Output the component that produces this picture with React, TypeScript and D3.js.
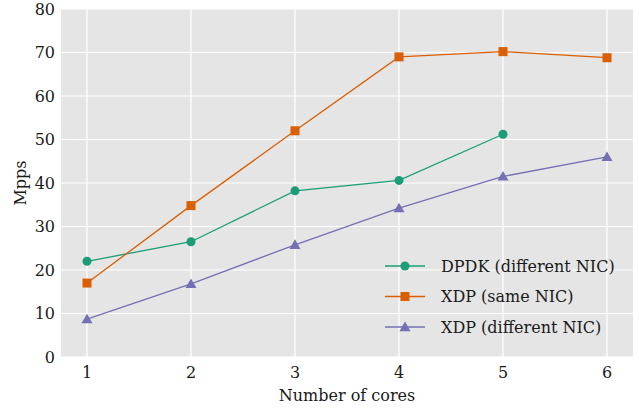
import React from "react";
import * as d3 from "d3";

const cores = [1, 2, 3, 4, 5, 6];
const dpdkDiff = [22.0, 26.5, 38.2, 40.6, 51.2];
const xdpSame = [17.0, 34.8, 52.0, 69.0, 70.2, 68.8];
const xdpDiff = [8.7, 16.8, 25.8, 34.2, 41.5, 46.0];
const yTicks = [0, 10, 20, 30, 40, 50, 60, 70, 80];
const seriesNames = ["DPDK (different NIC)", "XDP (same NIC)", "XDP (different NIC)"];
const colors = ["#1b9e77", "#d95f02", "#7570b3"];

const W = 639, H = 410;
const L = 61, R = 633, T = 9, B = 357;
const FONT = "DejaVu Serif";

export default function App() {
  const x = d3.scaleLinear().domain([0.75, 6.25]).range([L, R]);
  const y = d3.scaleLinear().domain([0, 80]).range([B, T]);
  const line = d3.line<[number, number]>().x(d => x(d[0])).y(d => y(d[1]));
  const series = [dpdkDiff, xdpSame, xdpDiff].map(vals => vals.map((v, i) => [cores[i], v] as [number, number]));
  const shapes = ["circle", "square", "triangle"];

  const marker = (shape: string, cx: number, cy: number, color: string, key: string) => {
    if (shape === "circle") return <circle key={key} cx={cx} cy={cy} r={4.5} fill={color} />;
    if (shape === "square") return <rect key={key} x={cx - 4.5} y={cy - 4.5} width={9} height={9} fill={color} />;
    const s = 5.5;
    return <path key={key} d={`M${cx},${cy - s}L${cx + s},${cy + s * 0.75}L${cx - s},${cy + s * 0.75}Z`} fill={color} />;
  };

  return (
    <svg width={W} height={H} style={{ position: "absolute", left: 0, top: 0 }} fontFamily={FONT}>
      <rect x={L} y={T} width={R - L} height={B - T} fill="#e5e5e5" />
      {yTicks.map(t => (
        <line key={"gy" + t} x1={L} x2={R} y1={y(t)} y2={y(t)} stroke="#fff" strokeWidth={1.2} />
      ))}
      {cores.map(c => (
        <line key={"gx" + c} x1={x(c)} x2={x(c)} y1={T} y2={B} stroke="#fff" strokeWidth={1.2} />
      ))}
      {yTicks.map(t => (
        <text key={"ty" + t} x={L - 6} y={y(t)} dy="0.35em" textAnchor="end" fontSize={16} fill="#1a1a1a">{t}</text>
      ))}
      {cores.map(c => (
        <text key={"tx" + c} x={x(c)} y={B + 21} textAnchor="middle" fontSize={16} fill="#1a1a1a">{c}</text>
      ))}
      {series.map((pts, si) => (
        <g key={"s" + si}>
          <path d={line(pts) || ""} fill="none" stroke={colors[si]} strokeWidth={1.3} />
          {pts.map((p, i) => marker(shapes[si], x(p[0]), y(p[1]), colors[si], `m${si}-${i}`))}
        </g>
      ))}
      {seriesNames.map((n, i) => {
        const ly = 266 + i * 30.5;
        return (
          <g key={"lg" + i}>
            <line x1={385} x2={425} y1={ly} y2={ly} stroke={colors[i]} strokeWidth={1.3} />
            {marker(shapes[i], 405, ly, colors[i], "lm" + i)}
            <text x={441} y={ly} dy="0.35em" fontSize={16} fill="#1a1a1a">{n}</text>
          </g>
        );
      })}
      <text x={(L + R) / 2} y={401} textAnchor="middle" fontSize={16} fill="#1a1a1a">Number of cores</text>
      <text transform={`translate(26,${(T + B) / 2}) rotate(-90)`} textAnchor="middle" fontSize={16} fill="#1a1a1a">Mpps</text>
    </svg>
  );
}
